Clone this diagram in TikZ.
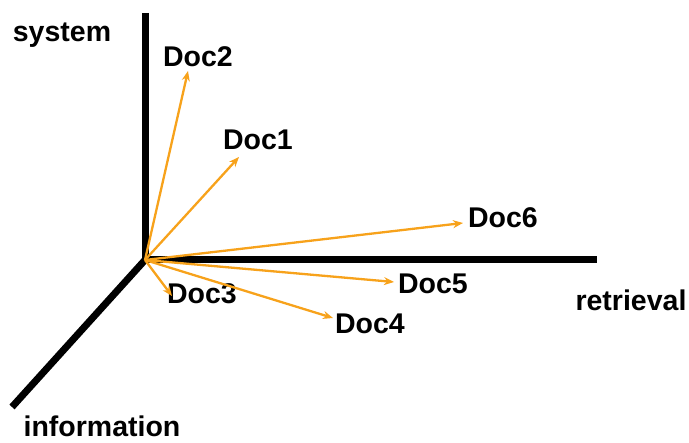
\documentclass[tikz,border=0pt]{standalone}
\usepackage{fontspec}
\setmainfont{Liberation Sans}
\usepackage{tikz}
\usetikzlibrary{arrows.meta}
\definecolor{DocOrange}{HTML}{F7A21B}

\begin{document}
\begin{tikzpicture}[x=1pt,y=-1pt,>={Stealth[length=10pt,width=8pt]}]
  \tikzstyle{axis}=[line width=7pt,black]
  \tikzstyle{vec}=[->,line width=2.3pt,color=DocOrange]
  \tikzstyle{lbl}=[inner sep=0pt,font=\fontsize{28.5}{30}\selectfont\bfseries]
  \useasboundingbox (0,0) rectangle (689,443);
  % axes
  \coordinate (o) at (145,260);
  \coordinate (ys) at (145,13);
  \coordinate (xr) at (597,260);
  \coordinate (zi) at (12,407);
  \draw[axis,line join=miter] (ys)--(o)--(xr);
  \draw[axis] (o)--(zi);
  \node[lbl] (sys) at (62,35) {system};
  \node[lbl] (ret) at (631,300) {retrieval};
  \node[lbl] (inf) at (102,426) {information};
  % documents
  \node[lbl] (d1) at (258,140) {Doc1};
  \node[lbl] (d2) at (198,57) {Doc2};
  \node[lbl] (d3) at (202,294) {Doc3};
  \node[lbl] (d4) at (370,324) {Doc4};
  \node[lbl] (d5) at (433,284) {Doc5};
  \node[lbl] (d6) at (503,218) {Doc6};
  \coordinate (t1) at (239,157);
  \coordinate (t2) at (188,71);
  \coordinate (t3) at (172,296);
  \coordinate (t4) at (333,318);
  \coordinate (t5) at (394,282);
  \coordinate (t6) at (463,223);
  \foreach \t in {t1,t2,t3,t4,t5,t6}
    \draw[vec] (o)--(\t);
\end{tikzpicture}
\end{document}
